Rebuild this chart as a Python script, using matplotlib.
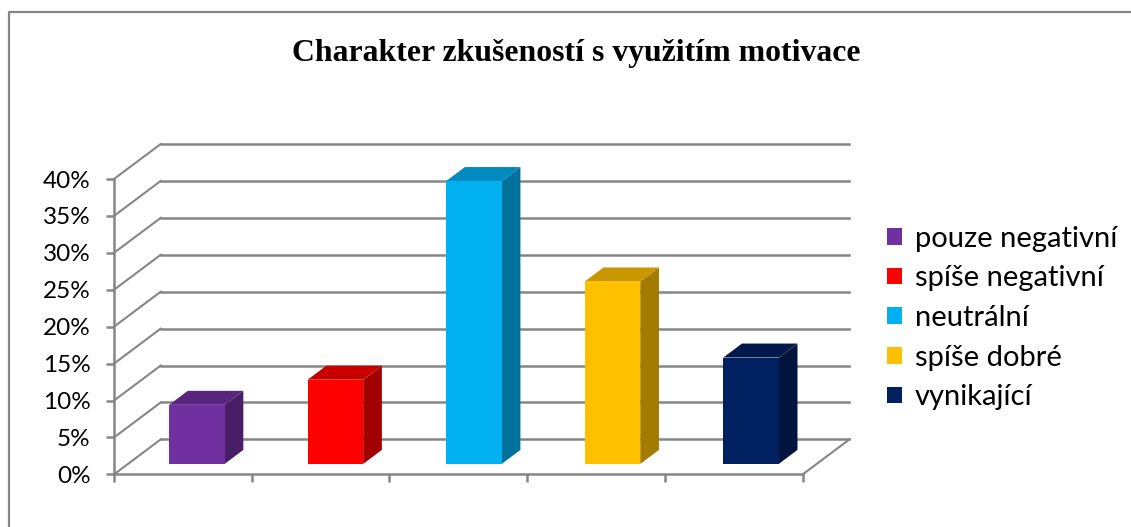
import numpy as np
import matplotlib
matplotlib.use("Agg")
import matplotlib.pyplot as plt
from matplotlib.patches import Polygon
from matplotlib.lines import Line2D

categories = ["pouze negativní", "spíše negativní", "neutrální", "spíše dobré", "vynikající"]
values = [8.0, 11.4, 38.3, 24.7, 14.4]
colors = ["#7030A0", "#FF0000", "#00B0F0", "#FFC000", "#002060"]
y_ticks = [0, 5, 10, 15, 20, 25, 30, 35, 40]
y_labels = ["0%", "5%", "10%", "15%", "20%", "25%", "30%", "35%", "40%"]
title = "Charakter zkušeností s využitím motivace"

W, H = 1131, 527
GREY = "#868686"

# full depth of the fake 3d box, in data units
DEPTH_X = 46.7 / 137.7
DEPTH_Y = 35.0 / 7.385
BAR_WIDTH = 55.5 / 137.7
BAR_STEP = 138.5 / 137.7
BAR_FRONT = 0.3
BAR_BACK = 0.7


def shade(color, factor):
    rgb = np.array(matplotlib.colors.to_rgb(color))
    return tuple(rgb * factor)


fig = plt.figure(figsize=(W / 100, H / 100), dpi=100)
ax = fig.add_axes([114 / W, 52.6 / H, 688.7 / W, 295.4 / H])
ax.set_xlim(0, 5)
ax.set_ylim(0, 40)
ax.patch.set_visible(False)

# grid on the back wall, side wall and floor
for y in y_ticks:
    ax.plot([0, DEPTH_X], [y, y + DEPTH_Y], color=GREY, lw=1.5, clip_on=False, zorder=1)
    ax.plot([DEPTH_X, 5 + DEPTH_X], [y + DEPTH_Y, y + DEPTH_Y], color=GREY, lw=1.8, clip_on=False, zorder=1)
ax.plot([5, 5 + DEPTH_X], [0, DEPTH_Y], color=GREY, lw=1.5, clip_on=False, zorder=1)

# bars: front face from ax.bar, side and top as polygons
for i, (name, val, col) in enumerate(zip(categories, values, colors)):
    x0 = i * BAR_STEP + 0.5 + BAR_FRONT * DEPTH_X - BAR_WIDTH / 2
    x1 = x0 + BAR_WIDTH
    y0 = BAR_FRONT * DEPTH_Y
    y1 = y0 + val
    dx = (BAR_BACK - BAR_FRONT) * DEPTH_X
    dy = (BAR_BACK - BAR_FRONT) * DEPTH_Y
    ax.bar(x0, val, width=BAR_WIDTH, bottom=y0, align="edge", color=col, label=name, zorder=3, clip_on=False)
    ax.add_patch(Polygon([(x1, y0), (x1 + dx, y0 + dy), (x1 + dx, y1 + dy), (x1, y1)],
                         closed=True, facecolor=shade(col, 0.64), zorder=2, clip_on=False))
    ax.add_patch(Polygon([(x0, y1), (x1, y1), (x1 + dx, y1 + dy), (x0 + dx, y1 + dy)],
                         closed=True, facecolor=shade(col, 0.79), zorder=2, clip_on=False))

for side in ["top", "right"]:
    ax.spines[side].set_visible(False)
for side in ["left", "bottom"]:
    ax.spines[side].set_color(GREY)
    ax.spines[side].set_linewidth(1.8)

ax.set_yticks(y_ticks)
ax.set_yticklabels(y_labels, fontfamily="Lato", fontsize=17.5)
ax.set_xticks(np.arange(0, 6))
ax.set_xticklabels([])
ax.tick_params(axis="both", color=GREY, width=1.8, length=6, labelcolor="black")
ax.tick_params(axis="y", pad=11)

fig.text(576 / W, 1 - 53 / H, title, ha="center", va="center", fontfamily="Liberation Serif",
         fontweight="bold", fontsize=22.9)

fig.legend(loc="center left", bbox_to_anchor=(887 / W, 1 - 318 / H), frameon=False,
           prop={"family": "Lato", "size": 21}, handlelength=0.51, handleheight=0.51,
           labelspacing=0.47, handletextpad=0.45, borderpad=0, borderaxespad=0)

# chart frame, only top and left edges fall inside the crop
fig.add_artist(Line2D([9 / W, 9 / W, 1], [0, 1 - 12 / H, 1 - 12 / H], color=GREY, lw=1.6))

fig.savefig("out.png", dpi=100)
